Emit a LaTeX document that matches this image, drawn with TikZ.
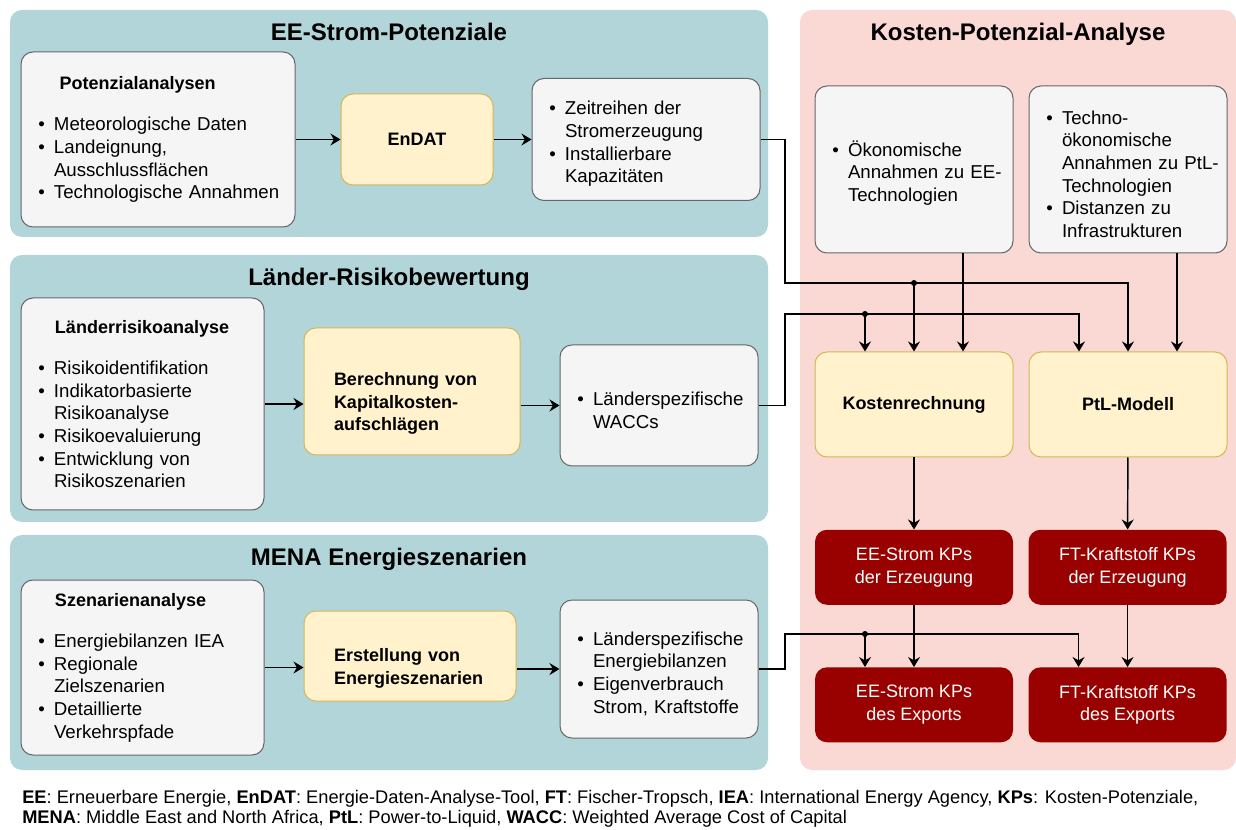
\documentclass[tikz,border=0pt]{standalone}
\usepackage{fontspec}
\setmainfont{Liberation Sans}
\usepackage{xcolor}
\usetikzlibrary{positioning, arrows.meta}

\definecolor{tealbg}{HTML}{B1D5D9}
\definecolor{pinkbg}{HTML}{FAD9D5}
\definecolor{grayfill}{HTML}{F5F5F5}
\definecolor{grayline}{HTML}{666666}
\definecolor{yelfill}{HTML}{FFF2CC}
\definecolor{yelline}{HTML}{D6B656}
\definecolor{darkred}{HTML}{990000}

\newcommand{\boxfont}{\fontsize{13.5}{17}\selectfont}
\newcommand{\listfont}{\fontsize{14}{17}\selectfont}
\newcommand{\bul}[1]{\par\hangindent=18.75pt\hangafter=1\noindent\makebox[18.75pt][l]{\hspace*{7pt}\textbullet}#1\par}

\begin{document}
\begin{tikzpicture}[
  x=0.75pt, y=-0.75pt,
  >={Stealth[length=7.5pt, width=9pt, inset=2.5pt]},
  panel/.style={draw=none, rounded corners=9pt, inner sep=0pt},
  ptitle/.style={font=\fontsize{18}{22}\selectfont\bfseries, inner sep=0pt, anchor=base},
  gbox/.style={
    draw=grayline, fill=grayfill, line width=0.75pt, rounded corners=9pt,
    align=left, inner xsep=6pt, font=\listfont
  },
  ybox/.style={
    draw=yelline, fill=yelfill, line width=0.75pt, rounded corners=9pt,
    align=left, font=\boxfont\bfseries
  },
  rbox/.style={
    fill=darkred, text=white, rounded corners=9pt, align=center, font=\boxfont,
    minimum width=148.5pt, minimum height=56.25pt
  },
  link/.style={->, line width=1.1pt},
  jdot/.style={circle, fill=black, inner sep=0pt, minimum size=4.5pt}
]
\useasboundingbox (0,0) rectangle (1236,830);

% panels
\node[panel, fill=tealbg, minimum width=568.5pt, minimum height=170.25pt] (eepanel) at (389,123.5) {};
\node[panel, fill=tealbg, minimum width=568.5pt, minimum height=200.25pt] (riskpanel) at (389,388.5) {};
\node[panel, fill=tealbg, minimum width=568.5pt, minimum height=176.25pt] (menapanel) at (389,652.5) {};
\node[panel, fill=pinkbg, minimum width=327pt, minimum height=570pt] (kpapanel) at (1018,390) {};

\node[ptitle] at ([yshift=-23.25pt]eepanel.north) {EE-Strom-Potenziale};
\node[ptitle] at ([yshift=-23.25pt]riskpanel.north) {Länder-Risikobewertung};
\node[ptitle] at ([yshift=-23.25pt]menapanel.north) {MENA Energieszenarien};
\node[ptitle] at ([yshift=-23.25pt]kpapanel.north) {Kosten-Potenzial-Analyse};

% EE-Strom-Potenziale
\node[gbox, text width=193.5pt, minimum height=131.25pt] (pot) at (158,139.5) {%
  \hspace*{23pt}{\boxfont\bfseries Potenzialanalysen}\par\vspace{14pt}
  \bul{Meteorologische Daten}
  \bul{Landeignung,\newline Ausschlussflächen}
  \bul{Technologische Annahmen}};
\node[ybox, align=center, minimum width=114pt, minimum height=68.25pt, right=33.75pt of pot] (endat) {EnDAT};
\node[gbox, text width=159pt, minimum height=91.5pt, right=28.5pt of endat] (zeit) {%
  \bul{Zeitreihen der\newline Stromerzeugung}
  \bul{Installierbare\newline Kapazitäten}};

% Laender-Risikobewertung
\node[gbox, text width=170.25pt, minimum height=159pt] (lrisk) at (142.5,404) {%
  \hspace*{19.5pt}{\boxfont\bfseries Länderrisikoanalyse}\par\vspace{14pt}
  \bul{Risikoidentifikation}
  \bul{Indikatorbasierte\newline Risikoanalyse}
  \bul{Risikoevaluierung}
  \bul{Entwicklung von\newline Risikoszenarien}};
\node[ybox, inner xsep=22.5pt, text width=117pt, minimum height=95.25pt,
      right=29.25pt of lrisk, yshift=9.4pt] (berech) {%
  \rule{0pt}{28pt}Berechnung von\\Kapitalkosten-\\aufschlägen};
\node[gbox, text width=136.5pt, minimum height=90.75pt, right=29.25pt of berech, yshift=-10.5pt] (wacc) {%
  \bul{Länderspezifische\newline WACCs}};

% MENA Energieszenarien
\node[gbox, text width=170.25pt, minimum height=131.25pt] (scen) at (142.5,667.5) {%
  \hspace*{19.5pt}{\boxfont\bfseries Szenarienanalyse}\par\vspace{14pt}
  \bul{Energiebilanzen IEA}
  \bul{Regionale\newline Zielszenarien}
  \bul{Detaillierte\newline Verkehrspfade}};
\node[ybox, inner xsep=22.5pt, text width=114pt, minimum height=67.5pt,
      right=29.25pt of scen, yshift=8.6pt] (erst) {%
  \rule{0pt}{28pt}Erstellung von\\Energieszenarien};
\node[gbox, text width=136.5pt, minimum height=103.5pt, right=32.25pt of erst, yshift=-9.75pt] (ebil) {%
  \bul{Länderspezifische\newline Energiebilanzen}
  \bul{Eigenverbrauch\newline Strom, Kraftstoffe}};

% Kosten-Potenzial-Analyse
\node[gbox, text width=136.5pt, minimum height=125.25pt] (oeko) at (914,169.5) {%
  \bul{Ökonomische\newline Annahmen zu EE-\newline Technologien}};
\node[gbox, text width=136.5pt, minimum height=125.25pt, right=11.25pt of oeko] (techno) {%
  \bul{Techno-\newline ökonomische\newline Annahmen zu PtL-\newline Technologien}
  \bul{Distanzen zu\newline Infrastrukturen}};
\node[ybox, align=center, minimum width=148.5pt, minimum height=78.75pt, below=73.5pt of oeko] (kost) {Kostenrechnung};
\node[ybox, align=center, minimum width=148.5pt, minimum height=78.75pt, right=11.25pt of kost] (ptl) {PtL-Modell};
\node[rbox, below=54pt of kost] (eeerz) {EE-Strom KPs\\der Erzeugung};
\node[rbox, right=11.25pt of eeerz] (fterz) {FT-Kraftstoff KPs\\der Erzeugung};
\node[rbox, below=46.5pt of eeerz] (eeexp) {EE-Strom KPs\\des Exports};
\node[rbox, right=11.25pt of eeexp] (ftexp) {FT-Kraftstoff KPs\\des Exports};

% connectors
\coordinate (busA) at (785,283);
\coordinate (busB) at (785,314);
\coordinate (busC) at (785,634);
\coordinate (kostL) at ([xshift=-36.75pt]kost.north);
\coordinate (kostR) at ([xshift=36.75pt]kost.north);
\coordinate (ptlL) at ([xshift=-36.75pt]ptl.north);
\coordinate (ptlR) at ([xshift=36.75pt]ptl.north);
\coordinate (eexL) at ([xshift=-36.75pt]eeexp.north);
\coordinate (ftxL) at ([xshift=-36.75pt]ftexp.north);

\draw[link] (pot) -- (endat);
\draw[link] (endat) -- (zeit);
\draw[link] (lrisk) -- (lrisk -| berech.west);
\draw[link] (berech.east |- wacc) -- (wacc);
\draw[link] (scen) -- (scen -| erst.west);
\draw[link] (erst.east |- ebil) -- (ebil);

\draw[link] (zeit.east) -| (busA) -| (ptl.north);
\draw[link] (kost.north |- busA) -- (kost.north);
\node[jdot] at (kost.north |- busA) {};
\draw[link] (wacc.east) -| (busB) -| (ptlL);
\draw[link] (kostL |- busB) -- (kostL);
\node[jdot] at (kostL |- busB) {};
\draw[link] ([xshift=36.75pt]oeko.south) -- (kostR);
\draw[link] ([xshift=36.75pt]techno.south) -- (ptlR);
\draw[link] (kost) -- (eeerz);
\draw[link] (ptl) -- (fterz);
\draw[link] (eeerz) -- (eeexp);
\draw[link] (fterz) -- (ftexp);
\draw[link] (ebil.east) -| (busC) -| (ftxL);
\draw[link] (eexL |- busC) -- (eexL);
\node[jdot] at (eexL |- busC) {};

% legend
\node[anchor=north west, align=left, inner sep=0pt, font=\fontsize{13.7}{15}\selectfont] (legend) at (22,790) {%
  \textbf{EE}: Erneuerbare Energie, \textbf{EnDAT}: Energie-Daten-Analyse-Tool, \textbf{FT}: Fischer-Tropsch, \textbf{IEA}: International Energy Agency, \textbf{KPs}: Kosten-Potenziale,\\
  \textbf{MENA}: Middle East and North Africa, \textbf{PtL}: Power-to-Liquid, \textbf{WACC}: Weighted Average Cost of Capital};
\end{tikzpicture}
\end{document}
